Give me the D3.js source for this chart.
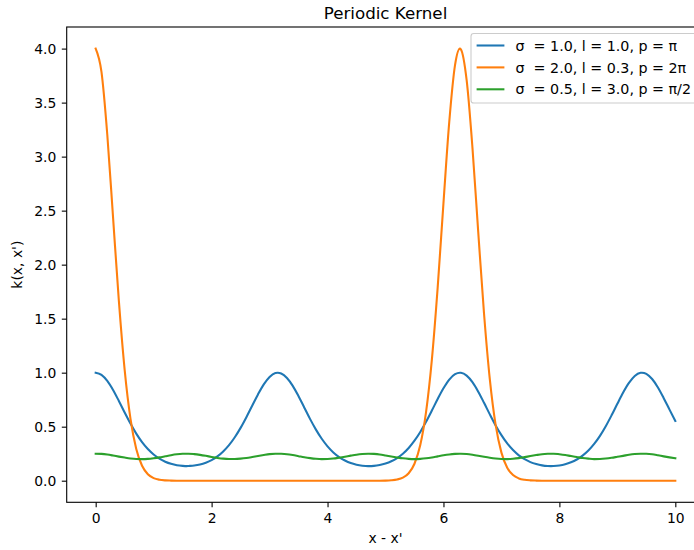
<!DOCTYPE html>
<html>
<head>
<meta charset="utf-8">
<script src="https://cdn.jsdelivr.net/npm/d3@7"></script>
<style>
  html, body { margin: 0; padding: 0; background: #fff; }
  svg { display: block; font-family: "DejaVu Sans", sans-serif; }
  .legend text { white-space: pre; }
</style>
</head>
<body>
<svg id="chart" width="694" height="550"></svg>
<script>
// Sample positions r = x - x' (0.1 spacing, plus the multiples of pi/2)
const xs = [
  0.0,0.1,0.2,0.3,0.4,0.5,0.6,0.7,0.8,0.9,1.0,1.1,1.2,1.3,1.4,1.5,1.5708,
  1.6,1.7,1.8,1.9,2.0,2.1,2.2,2.3,2.4,2.5,2.6,2.7,2.8,2.9,3.0,3.1,3.1416,
  3.2,3.3,3.4,3.5,3.6,3.7,3.8,3.9,4.0,4.1,4.2,4.3,4.4,4.5,4.6,4.7,4.7124,
  4.8,4.9,5.0,5.1,5.2,5.3,5.4,5.5,5.6,5.7,5.8,5.9,6.0,6.1,6.2,6.2832,
  6.3,6.4,6.5,6.6,6.7,6.8,6.9,7.0,7.1,7.2,7.3,7.4,7.5,7.6,7.7,7.8,7.854,
  7.9,8.0,8.1,8.2,8.3,8.4,8.5,8.6,8.7,8.8,8.9,9.0,9.1,9.2,9.3,9.4,9.4248,
  9.5,9.6,9.7,9.8,9.9,10.0
];

// sigma = 1.0, l = 1.0, p = pi
const kernelA = [
  1.000,0.980,0.924,0.840,0.738,0.631,0.529,0.436,0.357,0.293,0.243,0.204,0.176,0.156,0.143,0.137,0.135,
  0.136,0.140,0.150,0.167,0.191,0.225,0.271,0.329,0.402,0.489,0.588,0.694,0.799,0.892,0.961,0.997,1.000,
  0.993,0.951,0.878,0.782,0.676,0.570,0.473,0.388,0.318,0.262,0.219,0.187,0.163,0.148,0.139,0.135,0.135,
  0.137,0.145,0.159,0.180,0.210,0.250,0.303,0.370,0.451,0.545,0.649,0.756,0.855,0.936,0.986,1.000,
  0.999,0.973,0.912,0.824,0.721,0.614,0.512,0.422,0.345,0.284,0.235,0.199,0.172,0.154,0.142,0.136,0.135,
  0.136,0.141,0.152,0.170,0.196,0.232,0.279,0.340,0.415,0.504,0.605,0.712,0.816,0.905,0.970,0.999,1.000,
  0.989,0.941,0.863,0.764,0.658,0.553
];

// sigma = 2.0, l = 0.3, p = 2 pi
const kernelB = [
  4.000,3.784,3.205,2.435,1.664,1.026,0.574,0.293,0.138,0.060,0.024,0.009,0.003,0.001,0.000,0.000,0.000,
  0.000,0.000,0.000,0.000,0.000,0.000,0.000,0.000,0.000,0.000,0.000,0.000,0.000,0.000,0.000,0.000,0.000,
  0.000,0.000,0.000,0.000,0.000,0.000,0.000,0.000,0.000,0.000,0.000,0.000,0.000,0.000,0.000,0.000,0.000,
  0.000,0.000,0.001,0.004,0.011,0.028,0.069,0.157,0.330,0.637,1.121,1.787,2.570,3.321,3.849,4.000,
  3.994,3.708,3.084,2.301,1.545,0.937,0.516,0.260,0.120,0.052,0.021,0.008,0.003,0.001,0.000,0.000,0.000,
  0.000,0.000,0.000,0.000,0.000,0.000,0.000,0.000,0.000,0.000,0.000,0.000,0.000,0.000,0.000,0.000,0.000,
  0.000,0.000,0.000,0.000,0.000,0.000
];

// sigma = 0.5, l = 3.0, p = pi/2
const kernelC = [
  0.250,0.248,0.242,0.233,0.223,0.214,0.206,0.201,0.200,0.202,0.208,0.216,0.226,0.236,0.244,0.249,0.250,
  0.250,0.246,0.239,0.230,0.220,0.211,0.204,0.201,0.201,0.204,0.210,0.219,0.229,0.238,0.246,0.250,0.250,
  0.249,0.245,0.237,0.227,0.217,0.209,0.203,0.200,0.201,0.205,0.213,0.222,0.232,0.241,0.247,0.250,0.250,
  0.248,0.243,0.234,0.224,0.215,0.207,0.202,0.200,0.202,0.207,0.215,0.225,0.235,0.243,0.248,0.250,
  0.250,0.247,0.240,0.231,0.221,0.212,0.205,0.201,0.200,0.203,0.209,0.218,0.228,0.237,0.245,0.249,0.250,
  0.250,0.245,0.238,0.228,0.219,0.210,0.204,0.200,0.201,0.205,0.212,0.221,0.230,0.240,0.247,0.250,0.250,
  0.249,0.244,0.235,0.225,0.216,0.208
];

const seriesLabels = [
  "σ  = 1.0, l = 1.0, p = π",
  "σ  = 2.0, l = 0.3, p = 2π",
  "σ  = 0.5, l = 3.0, p = π/2"
];
const seriesColors = ["#1f77b4", "#ff7f0e", "#2ca02c"];
const xTicks = [0, 2, 4, 6, 8, 10];
const yTicks = [0.0, 0.5, 1.0, 1.5, 2.0, 2.5, 3.0, 3.5, 4.0];

const title = "Periodic Kernel";
const xLabel = "x - x'";
const yLabel = "k(x, x')";

const series = [kernelA, kernelB, kernelC].map((vals, i) => ({
  label: seriesLabels[i],
  color: seriesColors[i],
  points: xs.map((x, j) => ({ x, y: vals[j] }))
}));

// Axes box
const box = { left: 66.7, right: 704.3, top: 27, bottom: 502.3 };
const fs = 13.9;

const svg = d3.select("#chart");

const x = d3.scaleLinear().domain([-0.5, 10.5]).range([box.left, box.right]);
const y = d3.scaleLinear().domain([-0.2, 4.2]).range([box.bottom, box.top]);

// x axis
const gx = svg.append("g")
  .attr("transform", `translate(0,${box.bottom})`)
  .call(d3.axisBottom(x).tickValues(xTicks).tickFormat(d3.format("d"))
    .tickSize(4.9).tickPadding(5.5));
gx.select(".domain").remove();
gx.selectAll("line").attr("stroke", "#000").attr("stroke-width", 1.1);
gx.selectAll("text").attr("font-size", fs).attr("fill", "#000")
  .attr("font-family", "DejaVu Sans");

// y axis
const gy = svg.append("g")
  .attr("transform", `translate(${box.left},0)`)
  .call(d3.axisLeft(y).tickValues(yTicks).tickFormat(d3.format(".1f"))
    .tickSize(4.9).tickPadding(5.5));
gy.select(".domain").remove();
gy.selectAll("line").attr("stroke", "#000").attr("stroke-width", 1.1);
gy.selectAll("text").attr("font-size", fs).attr("fill", "#000")
  .attr("font-family", "DejaVu Sans");

// Curves
const line = d3.line()
  .x(d => x(d.x))
  .y(d => y(d.y))
  .curve(d3.curveMonotoneX);

svg.append("g").selectAll("path")
  .data(series)
  .join("path")
  .attr("d", d => line(d.points))
  .attr("fill", "none")
  .attr("stroke", d => d.color)
  .attr("stroke-width", 2.08)
  .attr("stroke-linejoin", "round")
  .attr("stroke-linecap", "square");

// Frame
svg.append("rect")
  .attr("x", box.left).attr("y", box.top)
  .attr("width", box.right - box.left).attr("height", box.bottom - box.top)
  .attr("fill", "none").attr("stroke", "#000").attr("stroke-width", 1.1);

// Title and axis labels
svg.append("text")
  .attr("x", (box.left + box.right) / 2).attr("y", 19)
  .attr("text-anchor", "middle").attr("font-size", 16.7).attr("fill", "#000")
  .text(title);

svg.append("text")
  .attr("x", (box.left + box.right) / 2).attr("y", 543)
  .attr("text-anchor", "middle").attr("font-size", fs).attr("fill", "#000")
  .text(xLabel);

svg.append("text")
  .attr("transform", `translate(22,${(box.top + box.bottom) / 2}) rotate(-90)`)
  .attr("text-anchor", "middle").attr("font-size", fs).attr("fill", "#000")
  .text(yLabel);

// Legend (upper right)
const lg = svg.append("g").attr("class", "legend");
const lgLeft = 471, lgTop = 33.5, lgW = 226, rowH = 21.9;
lg.append("rect")
  .attr("x", lgLeft).attr("y", lgTop)
  .attr("width", lgW).attr("height", 69.5)
  .attr("rx", 2.8).attr("ry", 2.8)
  .attr("fill", "#fff").attr("fill-opacity", 0.8)
  .attr("stroke", "#cccccc").attr("stroke-width", 1.1);

const rows = lg.selectAll("g.row")
  .data(series)
  .join("g")
  .attr("class", "row")
  .attr("transform", (d, i) => `translate(${lgLeft}, ${lgTop + 12 + i * rowH})`);

rows.append("line")
  .attr("x1", 5.6).attr("x2", 33.4)
  .attr("stroke", d => d.color).attr("stroke-width", 2.08);

rows.append("text")
  .attr("x", 44.5).attr("dy", "0.36em")
  .attr("font-size", 14.25).attr("fill", "#000")
  .attr("xml:space", "preserve")
  .text(d => d.label);
</script>
</body>
</html>
